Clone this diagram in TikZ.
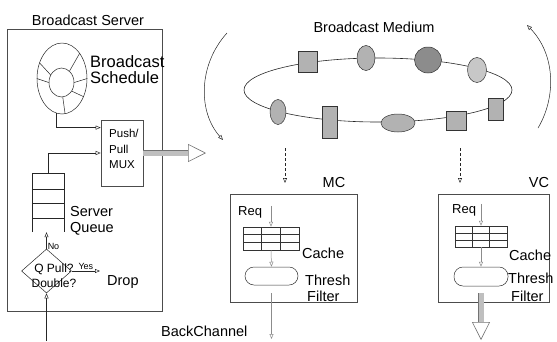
\documentclass[tikz,border=0pt]{standalone}
\usepackage{fontspec}
\setmainfont{Liberation Sans}
\usetikzlibrary{arrows.meta,positioning,shapes.geometric,calc}
\tikzset{box/.style={rectangle,draw=black!70,line width=0.8pt,inner sep=0pt}}
\tikzset{txt/.style={inner sep=0pt,anchor=west,align=left,font=\fontsize{14.5}{16}\selectfont}}
\tikzset{smalltxt/.style={inner sep=1pt,font=\fontsize{9}{10}\selectfont}}
\tikzset{toArrow/.style={draw=black!85,line width=0.5pt,-{Triangle[open,length=5pt,width=4pt]}}}
\tikzset{grayArrow/.style={toArrow,draw=black!45}}
\tikzset{dashArrow/.style={toArrow,dash pattern=on 3pt off 2pt}}
\tikzset{bigArrow/.style={draw=black!55,line width=0.5pt,double=black!25,double distance=5pt,-{Triangle[open,length=18pt,width=18pt,line width=0.6pt]}}}
\tikzset{packet/.style={draw=black!80,fill=black!30,line width=0.5pt,inner sep=0pt}}
\tikzset{cache/.style={rectangle,draw=black!80,line width=0.5pt,fill=white,inner sep=0pt,path picture={
  \foreach \f in {0.333,0.667} {
    \draw[black!80,line width=0.5pt] ($(path picture bounding box.north west)!\f!(path picture bounding box.north east)$) -- ($(path picture bounding box.south west)!\f!(path picture bounding box.south east)$);
    \draw[black!80,line width=0.5pt] ($(path picture bounding box.north west)!\f!(path picture bounding box.south west)$) -- ($(path picture bounding box.north east)!\f!(path picture bounding box.south east)$);}}}}
\tikzset{filter/.style={rectangle,draw=black!80,line width=0.5pt,inner sep=0pt,rounded corners=9pt}}

\begin{document}
\begin{tikzpicture}[x=1pt,y=-1pt]
\useasboundingbox (0,0) rectangle (557,341);
\begin{scope}[node distance=4pt]
	\node (server) [box, minimum width=155pt, minimum height=282pt] at (84.5,170) {};
	\node (serverLbl) [txt, anchor=center] at (88,20) {Broadcast Server};
	\node (ring) [ellipse, draw=black!85, line width=0.5pt, minimum width=50pt, minimum height=71pt] at (62,78.5) {};
	\node (ringIn) [ellipse, draw=black!85, line width=0.5pt, minimum width=25pt, minimum height=29pt] at (61.5,82.5) {};
	\foreach \a in {145,55,0,-40,-85,180}
		\draw [black!85, line width=0.5pt] (ringIn.\a) -- (ring.\a);
	\node (schedLbl) [txt, font=\fontsize{16.5}{16}\selectfont] at (90,70) {Broadcast\\Schedule};
	\node (mux) [box, line width=0.6pt, minimum width=42pt, minimum height=66pt] at (122,153) {};
	\node (muxTxt) [txt, font=\fontsize{11.5}{15.5}\selectfont] at (109,149) {Push/\\Pull\\MUX};
	\node (queue) [minimum width=32pt, minimum height=59pt, inner sep=0pt] at (48,202.5) {};
	\draw [black!85, line width=0.5pt] (queue.south west) |- (queue.north east) -- (queue.south east);
	\foreach \f in {0.27,0.51,0.76}
		\draw [black!85, line width=0.5pt] ($(queue.north west)!\f!(queue.south west)$) -- ($(queue.north east)!\f!(queue.south east)$);
	\node (queueLbl) [txt] at (70,221) {Server\\Queue};
	\node (dec) [diamond, draw=black!85, line width=0.5pt, minimum width=50pt, minimum height=44pt, inner sep=0pt] at (46.5,271) {};
	\node (decTxt) [inner sep=0pt, align=center, font=\fontsize{12}{15}\selectfont] at (54,276) {Q Pull?\\Double?};
	\node (drop) [txt, inner xsep=7pt] at (100,282) {Drop};
	\coordinate (srvIn) at (46.5,341);
	\coordinate (bigTip) at (206,153);
	\draw [toArrow] (ring.-100) |- (mux.130);
	\draw [toArrow] (queue.north) |- (mux.west);
	\draw [toArrow] (dec.north) -- (dec.north |- queue.south) node [smalltxt, right, pos=0.15] {No};
	\draw [toArrow] (dec.east) -- (dec.east -| drop.west) node [smalltxt, above, midway] {Yes};
	\draw [toArrow] (srvIn) -- (dec.south);
	\draw [bigArrow] (mux.east) -- (bigTip);

	\node (mediumLbl) [txt, anchor=center] at (374,27) {Broadcast Medium};
	\node (medium) [ellipse, draw=black!85, line width=0.6pt, minimum width=268pt, minimum height=64pt] at (378,90) {};
	\node (p1) [packet, rectangle, minimum width=19pt, minimum height=21pt] at (308,62) {};
	\node (p2) [packet, ellipse, minimum width=18pt, minimum height=25pt] at (366,58) {};
	\node (p3) [packet, ellipse, fill=black!45, minimum width=27pt, minimum height=26pt] at (428,60) {};
	\node (p4) [packet, ellipse, fill=black!22, minimum width=19pt, minimum height=25pt] at (477,70) {};
	\node (p5) [packet, ellipse, minimum width=16pt, minimum height=25pt] at (278,112) {};
	\node (p6) [packet, rectangle, minimum width=15pt, minimum height=32pt] at (330,122) {};
	\node (p7) [packet, ellipse, minimum width=34pt, minimum height=18pt] at (398,123) {};
	\node (p8) [packet, rectangle, minimum width=20pt, minimum height=19pt] at (456,121) {};
	\node (p9) [packet, rectangle, minimum width=15pt, minimum height=22pt] at (496,109) {};
	\coordinate (arcL1) at (227,33);
	\coordinate (arcL2) at (223,140);
	\coordinate (arcR1) at (538,128);
	\coordinate (arcR2) at (527,25);
	\draw [toArrow] (arcL1) .. controls (198,65) and (198,112) .. (arcL2);
	\draw [toArrow] (arcR1) .. controls (556,98) and (556,55) .. (arcR2);

	\coordinate (mcFeed) at (285,148);
	\coordinate (mcFeedEnd) at (285,183);
	\coordinate (vcFeed) at (460,148);
	\coordinate (vcFeedEnd) at (460,183);
	\draw [dashArrow] (mcFeed) -- (mcFeedEnd);
	\draw [dashArrow] (vcFeed) -- (vcFeedEnd);

	\node (mc) [box, minimum width=127pt, minimum height=108pt] at (294,248) {};
	\node (mcLbl) [txt, anchor=center] at (334,183) {MC};
	\node (mcReq) [txt, font=\fontsize{13}{14}\selectfont] at (238,212) {Req};
	\node (mcCache) [cache, minimum width=56pt, minimum height=23pt] at (271,238.5) {};
	\node (mcCacheLbl) [txt] at (302,253) {Cache};
	\node (mcFilt) [filter, minimum width=53pt, minimum height=18pt] at (271.5,276) {};
	\node (mcThresh) [txt] at (305,280) {Thresh};
	\node (mcFilter) [txt] at (307,296) {Filter};
	\coordinate (mcOut) at (271.5,339);
	\node (bcLbl) [txt] at (161,331) {BackChannel};
	\draw [grayArrow] (mcCache.north |- mcReq.north) -- (mcCache.north);
	\draw [grayArrow] (mcCache.south) -- (mcFilt.north);
	\draw [grayArrow, shorten <=8pt] (mcFilt.south) -- (mcOut);

	\node (vc) [box, minimum width=111pt, minimum height=108pt] at (493.5,248) {};
	\node (vcLbl) [txt, anchor=center] at (539,183) {VC};
	\node (vcReq) [txt, font=\fontsize{13}{14}\selectfont] at (452,210) {Req};
	\node (vcCache) [cache, minimum width=52pt, minimum height=21pt] at (481,236.5) {};
	\node (vcCacheLbl) [txt] at (509,255) {Cache};
	\node (vcFilt) [filter, minimum width=54pt, minimum height=19pt] at (481,276.5) {};
	\node (vcThresh) [txt] at (508,278) {Thresh};
	\node (vcFilter) [txt] at (511,296) {Filter};
	\coordinate (vcOut) at (481,340);
	\draw [grayArrow] (vcCache.north |- vcReq.north) -- (vcCache.north);
	\draw [grayArrow] (vcCache.south) -- (vcFilt.north);
	\draw [bigArrow, shorten <=7pt] (vcFilt.south) -- (vcOut);
\end{scope}
\end{tikzpicture}
\end{document}
